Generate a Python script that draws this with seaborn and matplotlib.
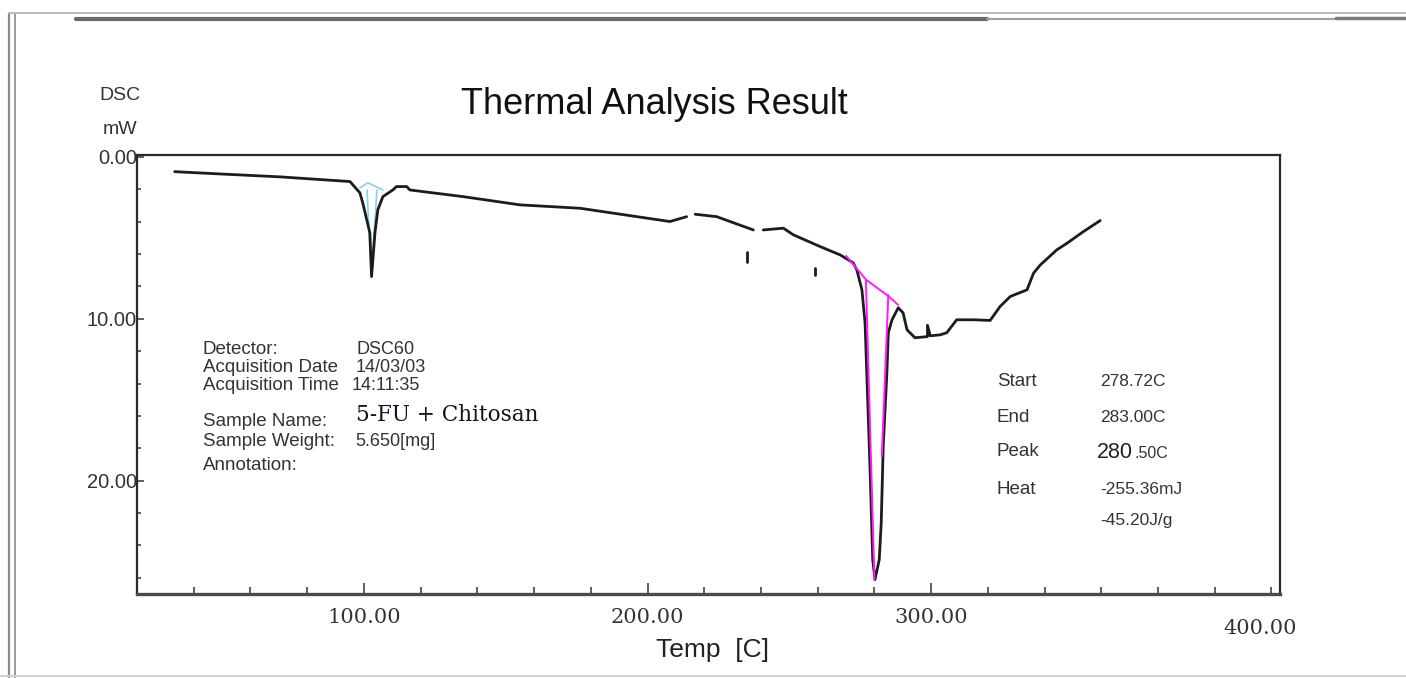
import matplotlib
matplotlib.use("Agg")
import numpy as np
import pandas as pd
import seaborn as sns
import matplotlib.pyplot as plt
from matplotlib.lines import Line2D
from matplotlib.ticker import MultipleLocator

sns.set_style("white")
plt.rcParams["font.family"] = ["Liberation Sans", "DejaVu Sans"]

# ---------------- data ----------------
# DSC trace, split where the recorded trace has gaps
seg1_temp = [33.3, 49.2, 70.4, 95.1, 98.6, 99.6, 102.1, 102.7, 103.9, 104.9,
             106.7, 110.2, 111.5, 115.1, 116.2, 134.9, 155.0, 176.2, 207.9, 213.8]
seg1_mw = [0.91, 1.05, 1.23, 1.52, 2.22, 2.84, 4.69, 7.39, 4.69, 3.27,
           2.45, 2.04, 1.83, 1.83, 2.04, 2.45, 2.96, 3.17, 3.99, 3.69]

seg2_temp = [216.8, 224.4, 237.3]
seg2_mw = [3.54, 3.69, 4.51]

seg3_temp = [240.8, 247.9, 251.4, 260.9, 267.9, 272.5, 273.8, 275.6, 276.7, 277.3,
             278.5, 279.4, 280.2, 281.7, 282.4, 283.1, 284.4, 284.9, 286.2, 288.4,
             290.1, 291.5, 294.3, 298.7, 298.7, 299.7, 303.2, 305.5, 309.0, 314.9,
             320.8, 324.3, 327.9, 333.8, 336.1, 338.5, 344.3, 347.9, 353.7, 359.6]
seg3_mw = [4.51, 4.40, 4.81, 5.54, 6.05, 6.54, 6.98, 8.21, 10.25, 13.33,
           19.51, 24.88, 26.11, 24.88, 22.59, 17.90, 13.33, 10.86, 10.06, 9.32,
           9.63, 10.68, 11.17, 11.10, 10.40, 11.05, 10.99, 10.86, 10.06, 10.06,
           10.10, 9.24, 8.62, 8.21, 7.18, 6.67, 5.74, 5.33, 4.61, 3.93]

glitch1_temp = [234.9, 234.9]
glitch1_mw = [5.85, 6.46]
glitch2_temp = [259.1, 259.1]
glitch2_mw = [6.85, 7.28]

# peak-analysis construction lines (magenta) for the 280 C peak
pink_base_temp = [270.0, 277.1, 284.8, 288.4]
pink_base_mw = [6.11, 7.59, 8.58, 9.14]
pink_v1_temp = [277.0, 280.0]
pink_v1_mw = [7.60, 26.1]
pink_v2_temp = [284.9, 282.6]
pink_v2_mw = [8.52, 18.5]

# construction lines (cyan) for the 102 C peak
cyan_base_temp = [98.6, 101.4, 106.7]
cyan_base_mw = [1.91, 1.60, 2.04]
cyan_v1_temp = [101.1, 102.5]
cyan_v1_mw = [2.04, 6.98]
cyan_v2_temp = [104.6, 103.2]
cyan_v2_mw = [2.04, 5.74]

x_ticks = [100, 200, 300]
x_tick_labels = ["100.00", "200.00", "300.00"]
y_ticks = [0, 10, 20]
y_tick_labels = ["0.00", "10.00", "20.00"]

info_labels = ["Detector:", "Acquisition Date", "Acquisition Time", "Sample Name:",
               "Sample Weight:", "Annotation:"]
info_values = ["DSC60", "14/03/03", "14:11:35", "", "5.650[mg]", ""]
sample_name = "5-FU + Chitosan"

peak_labels = ["Start", "End", "Peak", "Heat"]
peak_values = ["278.72C", "283.00C", "", "-255.36mJ", "-45.20J/g"]


def make_df(segs):
    rows = []
    for i, (t, m) in enumerate(segs):
        for a, b in zip(t, m):
            rows.append({"temp": a, "dsc": b, "segment": i})
    return pd.DataFrame(rows)


curve_df = make_df([(seg1_temp, seg1_mw), (seg2_temp, seg2_mw), (seg3_temp, seg3_mw),
                    (glitch1_temp, glitch1_mw), (glitch2_temp, glitch2_mw)])
pink_df = make_df([(pink_base_temp, pink_base_mw), (pink_v1_temp, pink_v1_mw),
                   (pink_v2_temp, pink_v2_mw)])
cyan_df = make_df([(cyan_base_temp, cyan_base_mw), (cyan_v1_temp, cyan_v1_mw),
                   (cyan_v2_temp, cyan_v2_mw)])

W, H = 1406, 678
fig = plt.figure(figsize=(W / 100, H / 100), dpi=100)
fig.patch.set_facecolor("white")


def P(x, y):
    return x / W, 1 - y / H


ax = fig.add_axes([137 / W, 1 - 594 / H, (1280 - 137) / W, (594 - 155) / H])

sns.lineplot(data=cyan_df, x="temp", y="dsc", units="segment", estimator=None, sort=False,
             color="#7fd4f0", lw=1.2, ax=ax, legend=False)
sns.lineplot(data=curve_df, x="temp", y="dsc", units="segment", estimator=None, sort=False,
             color="#1c1c1c", lw=2.0, ax=ax, legend=False)
sns.lineplot(data=pink_df, x="temp", y="dsc", units="segment", estimator=None, sort=False,
             color="#ff1aff", lw=1.4, ax=ax, legend=False)

ax.set_xlim(20, 423)
ax.set_ylim(27.0, -0.12)
ax.set_xlabel("")
ax.set_ylabel("")

ax.set_xticks(x_ticks)
ax.set_xticklabels(x_tick_labels, fontfamily="DejaVu Serif", fontsize=15, color="#333333")
ax.set_yticks(y_ticks)
ax.set_yticklabels(y_tick_labels, fontsize=14.5, color="#333333")
ax.xaxis.set_minor_locator(MultipleLocator(20))
ax.yaxis.set_minor_locator(MultipleLocator(2))
ax.tick_params(axis="x", which="both", direction="in", bottom=True, top=False,
               color="#444444", width=1.2)
ax.tick_params(axis="x", which="major", length=8, pad=10)
ax.tick_params(axis="x", which="minor", length=5)
ax.tick_params(axis="y", which="both", direction="in", left=True, right=False,
               color="#444444", width=1.2, pad=0)
ax.tick_params(axis="y", which="major", length=5)
ax.tick_params(axis="y", which="minor", length=3)

for s in ["left", "right", "top"]:
    ax.spines[s].set_color("#2a2a2a")
    ax.spines[s].set_linewidth(1.6)
ax.spines["bottom"].set_color("#4a4a4a")
ax.spines["bottom"].set_linewidth(2.4)

# titles / axis captions
fig.text(*P(654, 104), "Thermal Analysis Result", fontsize=26, ha="center", va="center",
         color="#111111")
fig.text(*P(120, 95), "DSC", fontsize=14, ha="center", va="center", color="#333333")
fig.text(*P(120, 129), "mW", fontsize=14, ha="center", va="center", color="#333333")
fig.text(*P(713, 650), "Temp  [C]", fontsize=19, ha="center", va="center", color="#222222")
fig.text(*P(1260, 628), "400.00", fontfamily="DejaVu Serif", fontsize=15, ha="center",
         va="center", color="#333333")

# info block
info_y = [349, 368, 386, 421, 441, 465]
info_vx = [357, 356, 352, 356, 355, 356]
for lab, val, y, vx in zip(info_labels, info_values, info_y, info_vx):
    fig.text(*P(203, y), lab, fontsize=13.5, ha="left", va="center", color="#333333")
    if val:
        fig.text(*P(vx, y), val, fontsize=13, ha="left", va="center", color="#333333")
fig.text(*P(356, 415), sample_name, fontfamily="DejaVu Serif", fontsize=15.5, ha="left",
         va="center", color="#111122")

# peak result block
peak_y = [382, 418, 452, 490]
for lab, y in zip(peak_labels, peak_y):
    fig.text(*P(997, y), lab, fontsize=13.5, ha="left", va="center", color="#333333")
val_y = [382, 418, 452, 490, 521]
for val, y in zip(peak_values, val_y):
    if val:
        fig.text(*P(1100, y), val, fontsize=12.5, ha="left", va="center", color="#333333")
fig.text(*P(1097, 452), "280", fontsize=15.5, ha="left", va="center", color="#222222")
fig.text(*P(1134, 454), ".50C", fontsize=11.5, ha="left", va="center", color="#333333")

# scanned window frame
def fline(x0, y0, x1, y1, **kw):
    fig.add_artist(Line2D([x0 / W, x1 / W], [1 - y0 / H, 1 - y1 / H],
                          transform=fig.transFigure, **kw))

fline(9, 14, 9, 678, color="#8a8a8a", lw=1.6)
fline(15, 14, 15, 678, color="#9a9a9a", lw=1.4)
fline(9, 13, 1406, 13, color="#b0b0b0", lw=1.2)
fline(76, 19, 987, 19, color="#6a6a6a", lw=3.0)
fline(987, 19, 1336, 19, color="#a0a0a0", lw=1.5)
fline(1336, 18, 1406, 18, color="#7a7a7a", lw=2.5)
fline(0, 676, 1406, 676, color="#d0d0d0", lw=1.5)

fig.savefig("out.png", dpi=100, facecolor="white")
